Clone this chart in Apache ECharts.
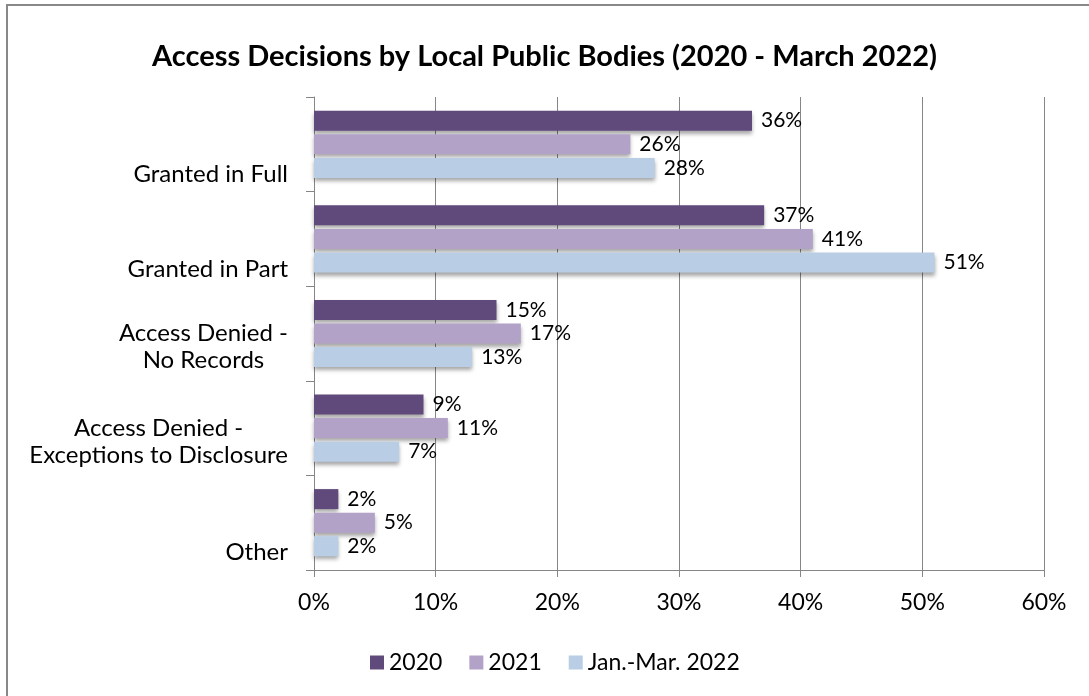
<!DOCTYPE html>
<html>
<head>
<meta charset="utf-8">
<script src="https://cdn.jsdelivr.net/npm/echarts@6/dist/echarts.min.js"></script>
<style>
  html, body { margin: 0; padding: 0; background: #fff; }
  #chart { width: 1089px; height: 696px; }
</style>
</head>
<body>
<div id="chart"></div>
<script>
// Access decisions by local public bodies, share of decisions (%)
const categories = [
  'Granted in Full',
  'Granted in Part',
  'Access Denied -\nNo Records',
  'Access Denied -\nExceptions to Disclosure',
  'Other'
];
const seriesNames = ['2020', '2021', 'Jan.-Mar. 2022'];
const values2020 = [36, 37, 15, 9, 2];
const values2021 = [26, 41, 17, 11, 5];
const values2022 = [28, 51, 13, 7, 2];
const xTicks = [0, 10, 20, 30, 40, 50, 60];

const colors = ['#604a7b', '#b3a2c7', '#b9cde5'];
const font = 'Lato, "Open Sans", sans-serif';
const gridColor = '#868686';

const chart = echarts.init(document.getElementById('chart'), null, { renderer: 'canvas' });

function makeSeries(name, data, color) {
  return {
    name: name,
    type: 'bar',
    data: data,
    barWidth: 20,
    barGap: '18%',
    itemStyle: {
      color: color,
      shadowColor: 'rgba(0,0,0,0.35)',
      shadowBlur: 4,
      shadowOffsetX: 0,
      shadowOffsetY: 3
    },
    label: {
      show: true,
      position: 'right',
      distance: 9,
      formatter: '{c}%',
      color: '#000',
      fontFamily: font,
      fontSize: 21
    }
  };
}

// Category labels sit low in their band; a spacer line above pushes them down,
// and wrapped labels are centred line by line.
function categoryLabel(v) {
  const lines = v.split('\n');
  const spacer = lines.length > 1 ? '{e2| }' : '{e1| }';
  return spacer + '\n' + lines.map(function (s) { return '{c|' + s + '}'; }).join('\n');
}

chart.setOption({
  animation: false,
  backgroundColor: '#fff',
  title: {
    text: 'Access Decisions by Local Public Bodies (2020 - March 2022)',
    left: 'center',
    top: 37,
    textStyle: { fontFamily: font, fontSize: 29, fontWeight: 'bold', color: '#000' }
  },
  graphic: [{
    type: 'rect',
    shape: { x: 7, y: 5, width: 1200, height: 800 },
    style: { fill: 'none', stroke: '#888', lineWidth: 2 },
    silent: true
  }],
  legend: {
    top: 646,
    left: 365,
    icon: 'rect',
    itemWidth: 14,
    itemHeight: 14,
    itemGap: 27,
    textStyle: { fontFamily: font, fontSize: 23, color: '#000' },
    data: seriesNames
  },
  grid: { left: 314, right: 45, top: 97, bottom: 126, containLabel: false },
  xAxis: {
    type: 'value',
    min: xTicks[0],
    max: xTicks[xTicks.length - 1],
    interval: 10,
    axisLine: { show: true, lineStyle: { color: gridColor, width: 1 } },
    axisTick: { show: true, length: 7, lineStyle: { color: gridColor } },
    axisLabel: {
      formatter: '{value}%',
      margin: 21,
      color: '#000',
      fontFamily: font,
      fontSize: 23
    },
    splitLine: { show: true, lineStyle: { color: gridColor, width: 1 } }
  },
  yAxis: {
    type: 'category',
    inverse: true,
    data: categories,
    axisLine: { show: true, lineStyle: { color: gridColor, width: 1 } },
    axisTick: { show: true, length: 8, lineStyle: { color: gridColor } },
    axisLabel: {
      margin: 26,
      color: '#000',
      fontFamily: font,
      fontSize: 24,
      formatter: categoryLabel,
      rich: {
        c: { align: 'center', fontFamily: font, fontSize: 24, color: '#000', lineHeight: 27 },
        e1: { fontSize: 1, lineHeight: 60 },
        e2: { fontSize: 1, lineHeight: 27 }
      }
    }
  },
  series: [
    makeSeries(seriesNames[0], values2020, colors[0]),
    makeSeries(seriesNames[1], values2021, colors[1]),
    makeSeries(seriesNames[2], values2022, colors[2])
  ]
});
</script>
</body>
</html>
